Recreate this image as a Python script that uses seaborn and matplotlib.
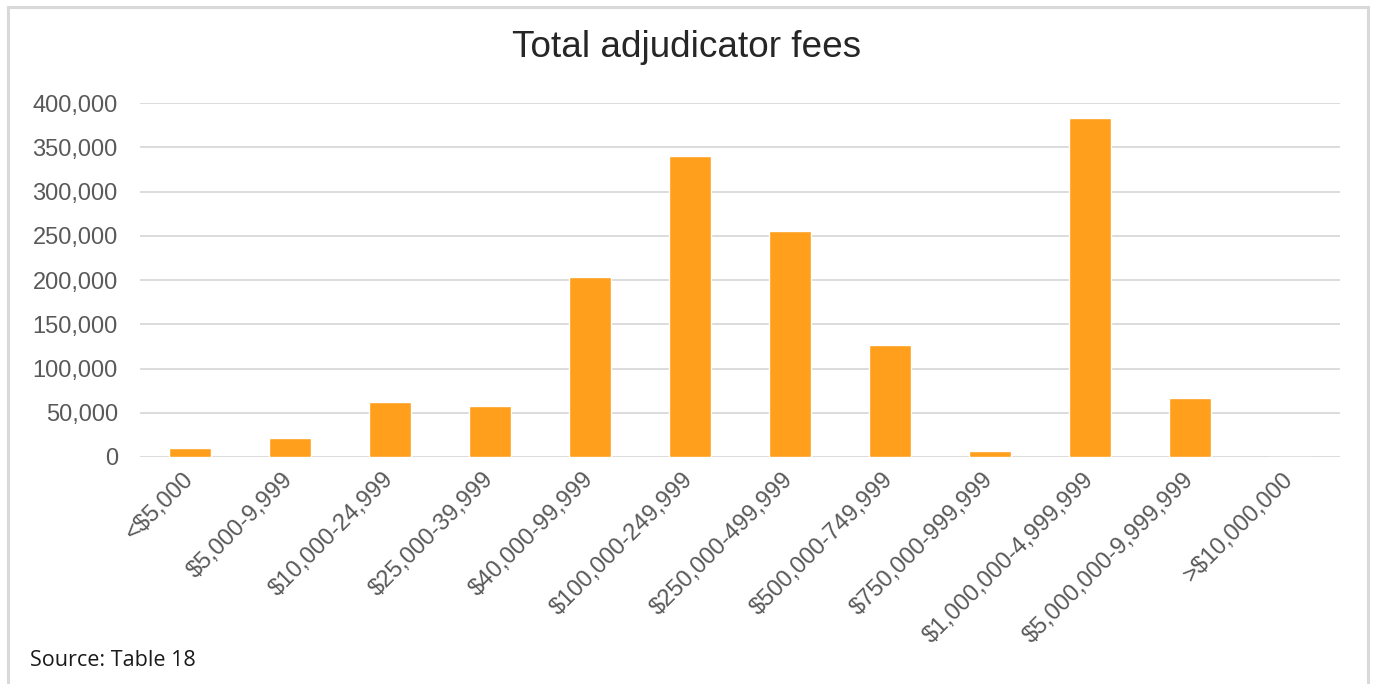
import matplotlib
matplotlib.use("Agg")
import matplotlib.pyplot as plt
import matplotlib.patches as mpatches
import seaborn as sns
import pandas as pd
from matplotlib.ticker import FuncFormatter

# values
categories = [
    "<$5,000", "$5,000-9,999", "$10,000-24,999", "$25,000-39,999",
    "$40,000-99,999", "$100,000-249,999", "$250,000-499,999",
    "$500,000-749,999", "$750,000-999,999", "$1,000,000-4,999,999",
    "$5,000,000-9,999,999", ">$10,000,000",
]
fees = [10500, 21500, 62500, 58000, 203000, 340500, 255000,
        126500, 6500, 383500, 67000, 0]

df = pd.DataFrame({"band": categories, "fees": fees})

sns.set_theme(style="white")
plt.rcParams["font.family"] = ["Liberation Sans", "DejaVu Sans"]

fig = plt.figure(figsize=(13.73, 6.84), dpi=100)
ax = fig.add_axes([0.102, 0.332, 0.874, 0.517])

sns.barplot(data=df, x="band", y="fees", color="#FF9F1C", saturation=1,
            width=0.42, ax=ax, zorder=3)

ax.set_ylim(0, 400000)
ax.set_yticks(range(0, 400001, 50000))
ax.yaxis.set_major_formatter(FuncFormatter(lambda v, p: f"{int(v):,}"))
ax.grid(axis="y", color="#D9D9D9", linewidth=1.3, zorder=0)
ax.set_axisbelow(True)
sns.despine(ax=ax, left=True, bottom=True, top=True, right=True)
ax.set_xlabel("")
ax.set_ylabel("")

ax.tick_params(axis="y", length=0, pad=16, labelsize=17, labelcolor="#595959")
ax.tick_params(axis="x", length=0, pad=14, labelsize=17, labelcolor="#595959")
plt.setp(ax.get_xticklabels(), rotation=45, ha="right", va="center",
         rotation_mode="anchor")

fig.text(0.5, 0.93, "Total adjudicator fees", ha="center", va="center",
         fontsize=26.6, color="#262626")
fig.text(0.022, 0.034, "Source: Table 18", ha="left", va="center",
         fontsize=15.5, color="#1a1a1a", family=["Open Sans", "DejaVu Sans"])

# light frame around the chart area
frame = mpatches.Rectangle((8 / 1373, -0.01), 1360 / 1373, 1 - 7 / 684 + 0.01,
                           transform=fig.transFigure, fill=False,
                           edgecolor="#D9D9D9", linewidth=2.2)
fig.patches.append(frame)

fig.savefig("out.png", dpi=100, facecolor="white")
